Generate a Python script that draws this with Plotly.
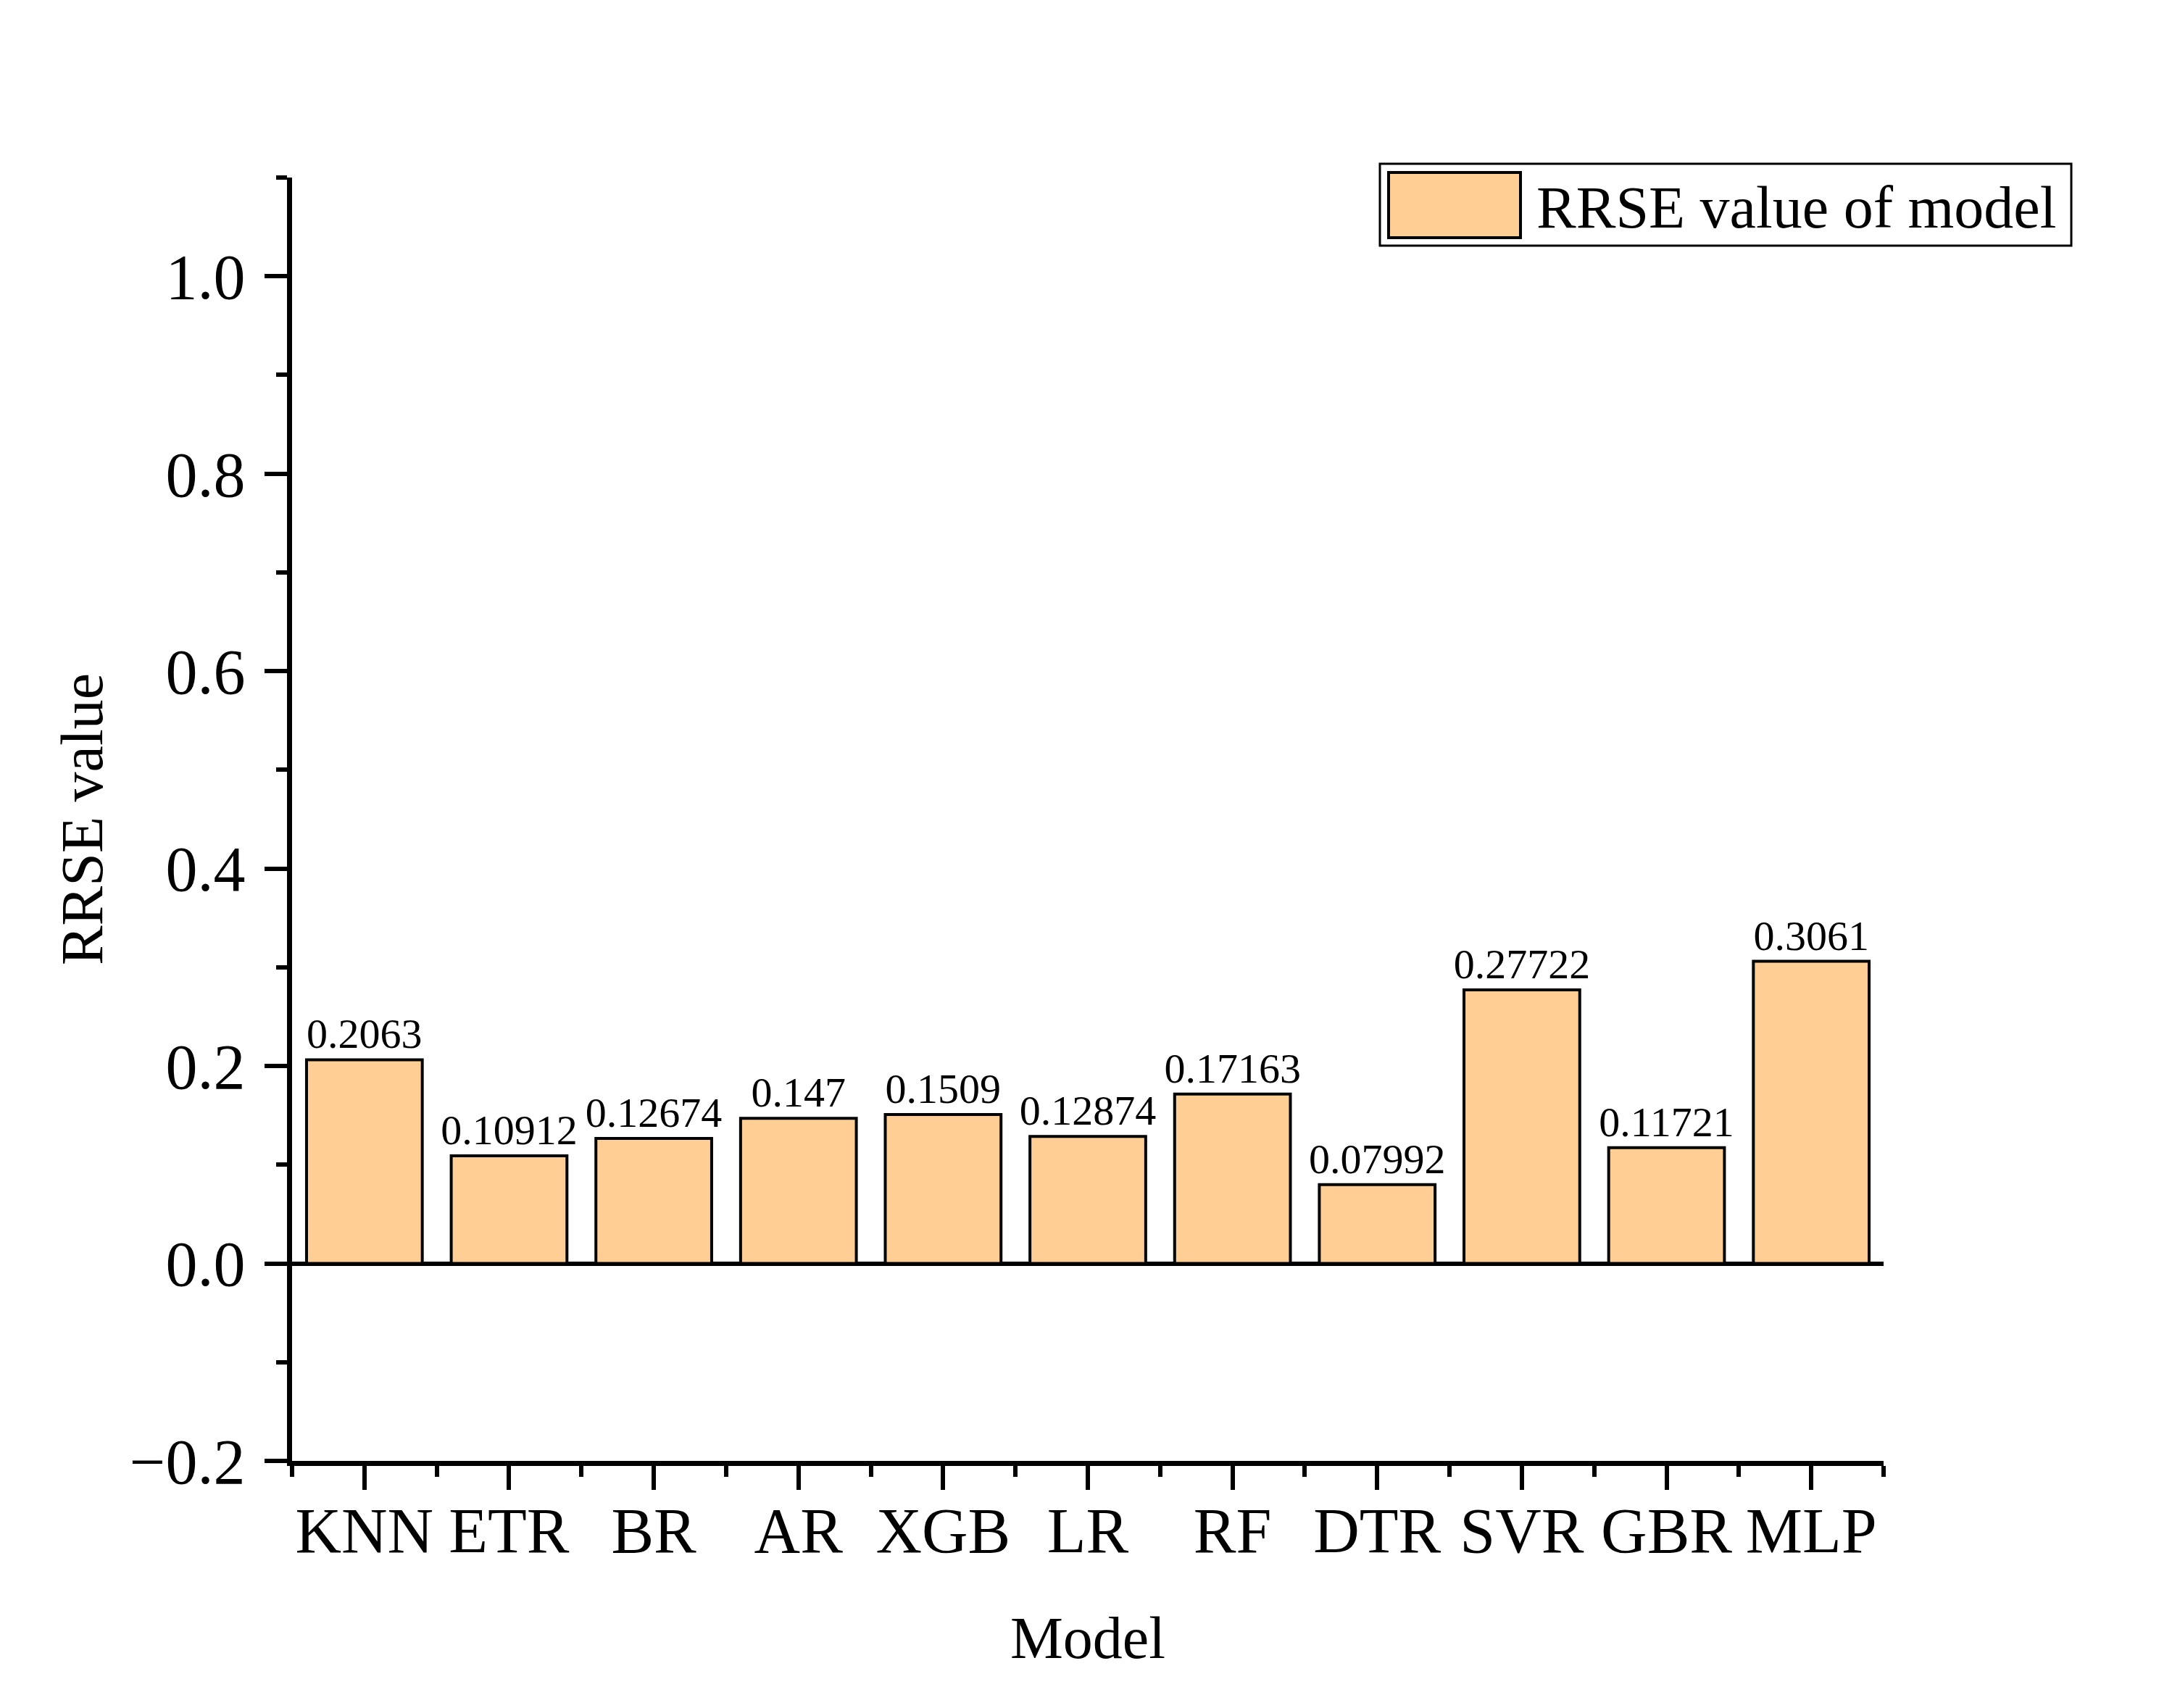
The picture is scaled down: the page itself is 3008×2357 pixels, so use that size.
import plotly.graph_objects as go

models = ["KNN", "ETR", "BR", "AR", "XGB", "LR", "RF", "DTR", "SVR", "GBR", "MLP"]
rrse = [0.2063, 0.10912, 0.12674, 0.147, 0.1509, 0.12874, 0.17163, 0.07992, 0.27722, 0.11721, 0.3061]
labels = ["0.2063", "0.10912", "0.12674", "0.147", "0.1509", "0.12874", "0.17163", "0.07992", "0.27722", "0.11721", "0.3061"]
series_name = "RRSE value of model"

FONT = "Liberation Serif, Times New Roman, serif"
FILL = "#FECE94"
idx = list(range(len(models)))

fig = go.Figure()
fig.add_trace(go.Bar(
    x=idx, y=rrse, name=series_name,
    marker=dict(color=FILL, line=dict(color="black", width=4)),
    text=labels, textposition="outside", constraintext="none",
    textfont=dict(family=FONT, size=58, color="black"),
    cliponaxis=False, showlegend=False,
))

OFF = 8  # page body margin
W, H = 3000, 2349
L, T = 395, 237
PW, PH = 2196, 1771
R, B = W - L - PW, H - T - PH

fig.update_layout(
    width=W, height=H,
    margin=dict(l=L, r=R, t=T, b=B, pad=0),
    paper_bgcolor="white", plot_bgcolor="white",
    bargap=0.2,
    font=dict(family=FONT, color="black"),
    xaxis=dict(
        range=[-0.5, 10.5], tickvals=idx, ticktext=models,
        showline=True, linecolor="black", linewidth=7,
        ticks="outside", ticklen=33, tickwidth=6, tickcolor="black",
        tickfont=dict(family=FONT, size=88, color="black"),
        ticklabelstandoff=-20,
        minor=dict(ticks="outside", ticklen=15, tickwidth=6, tickcolor="black", tick0=0.5, dtick=1, showgrid=False),
        showgrid=False, zeroline=False,
        title=dict(text="Model", font=dict(family=FONT, size=82, color="black"), standoff=73),
    ),
    yaxis=dict(
        range=[-0.2, 1.1], dtick=0.2, tick0=0, tickformat=".1f",
        showline=True, linecolor="black", linewidth=7,
        ticks="outside", ticklen=31, tickwidth=6, tickcolor="black",
        tickfont=dict(family=FONT, size=88, color="black"),
        ticklabelstandoff=9,
        minor=dict(ticks="outside", ticklen=15, tickwidth=6, tickcolor="black", tick0=0, dtick=0.1, showgrid=False),
        showgrid=False, zeroline=True, zerolinecolor="black", zerolinewidth=6,
        title=dict(text="RRSE value", font=dict(family=FONT, size=82, color="black"), standoff=13),
    ),
)

# Legend (drawn as a framed box with a large swatch, like the original)
def px(xs): return (xs - OFF - L) / PW
def py(ys): return (T + PH - (ys - OFF)) / PH

fig.add_shape(type="rect", xref="paper", yref="paper",
              x0=px(1904), x1=px(2858), y0=py(339), y1=py(226),
              line=dict(color="black", width=3), fillcolor="white", layer="above")
fig.add_shape(type="rect", xref="paper", yref="paper",
              x0=px(1916), x1=px(2098), y0=py(328), y1=py(238),
              line=dict(color="black", width=4), fillcolor=FILL, layer="above")
fig.add_annotation(xref="paper", yref="paper", x=px(2118), y=py(286),
                   xanchor="left", yanchor="middle", showarrow=False,
                   text=series_name, font=dict(family=FONT, size=82, color="black"))

fig.write_html("out.html")
